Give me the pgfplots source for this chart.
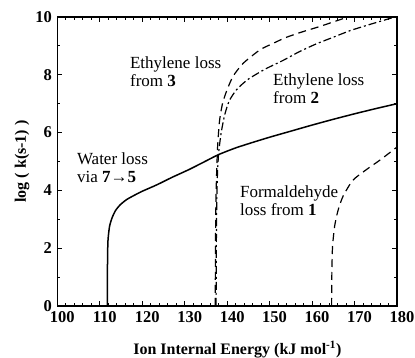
\documentclass[border=0pt]{standalone}
\usepackage{fontspec}
\setmainfont{Liberation Serif}
\usepackage{pgfplots}
\pgfplotsset{compat=1.18}
\begin{document}
\begin{tikzpicture}
\begin{axis}[
  at={(0,0)}, anchor=south west,
  scale only axis, width=339.7pt, height=289pt,
  xmin=100, xmax=180, ymin=0, ymax=10,
  xtick={100,110,...,180}, ytick={0,2,...,10},
  minor x tick num=4, minor y tick num=1,
  tick align=inside, tick pos=both,
  major tick length=5pt, minor tick length=3pt,
  axis line style={line width=1.3pt},
  every tick/.style={line width=0.9pt, black},
  /pgf/number format/assume math mode=true,
  ticklabel style={font=\fontsize{16.5}{18}\selectfont\bfseries},
  xticklabel style={yshift=-1.5pt, xshift=5pt},
  yticklabel style={xshift=-2pt},
  xlabel={Ion Internal Energy (kJ mol\textsuperscript{-1})},
  ylabel={log ( k(s-1) )},
  label style={font=\fontsize{16}{18}\selectfont\bfseries},
  xlabel style={at={(axis description cs:0.53,-0.152)}, anchor=center},
  ylabel style={at={(axis description cs:-0.104,0.5)}, anchor=center},
  clip=true,
]
% Water loss via 7->5 (solid)
\addplot[black, line width=1.5pt, smooth, tension=0.4] coordinates {
 (111.8,0) (111.8,1) (111.85,1.8) (111.95,2.3) (112.3,2.75) (112.9,3.05)
 (113.7,3.3) (114.8,3.5) (116.3,3.68) (118,3.82) (120,3.97) (123.4,4.19)
 (127,4.45) (131,4.72) (134.5,4.98) (138,5.24) (142,5.47) (146,5.66)
 (150,5.84) (155,6.05) (160,6.26) (165,6.46) (170,6.65) (175,6.83) (180,7.0)
};
% Ethylene loss from 3 (dashed)
\addplot[black, line width=1.2pt, dash pattern=on 8pt off 5pt, smooth, tension=0.4] coordinates {
 (137.2,0) (137.25,2) (137.35,3.5) (137.5,4.5) (137.75,5.5) (138.2,6.4)
 (138.9,7.0) (139.9,7.45) (141.4,7.95) (143.8,8.4) (147.7,8.86) (151,9.1)
 (154,9.3) (158,9.5) (161.8,9.67) (165,9.83) (168.5,10.0)
};
% Ethylene loss from 2 (dash-dot)
\addplot[black, line width=1.2pt, dash pattern=on 8pt off 3pt on 2pt off 3pt, smooth, tension=0.4] coordinates {
 (137.4,0) (137.45,2) (137.55,3.5) (137.7,4.5) (138,5.3) (138.6,6.0)
 (139.4,6.6) (140.5,7.1) (142.3,7.5) (145,7.85) (149,8.2) (153.2,8.5)
 (157,8.8) (161,9.07) (165,9.3) (169,9.53) (174,9.76) (179.5,10.0)
};
% Formaldehyde loss from 1 (dashed)
\addplot[black, line width=1.2pt, dash pattern=on 8pt off 5pt, smooth, tension=0.4] coordinates {
 (164.6,0) (164.65,1) (164.8,2) (165.3,2.75) (166.1,3.3) (167.3,3.8)
 (169.6,4.35) (172.8,4.72) (176,5.05) (180,5.5)
};
\node[anchor=west, align=left, font=\fontsize{17}{18}\selectfont, inner sep=0pt] at (axis cs:117.1,8.12) {Ethylene loss\\from \textbf{3}};
\node[anchor=west, align=left, font=\fontsize{17}{18}\selectfont, inner sep=0pt] at (axis cs:150.8,7.53) {Ethylene loss\\from \textbf{2}};
\node[anchor=west, align=left, font=\fontsize{17}{18.5}\selectfont, inner sep=0pt] at (axis cs:104.6,4.78) {Water loss\\via \textbf{7}→\textbf{5}};
\node[anchor=west, align=left, font=\fontsize{17}{18}\selectfont, inner sep=0pt] at (axis cs:143,3.63) {Formaldehyde\\loss from \textbf{1}};
\end{axis}
\pgfresetboundingbox
\path (-57.3pt,-52pt) rectangle (357.7pt,306pt);
\end{tikzpicture}
\end{document}
